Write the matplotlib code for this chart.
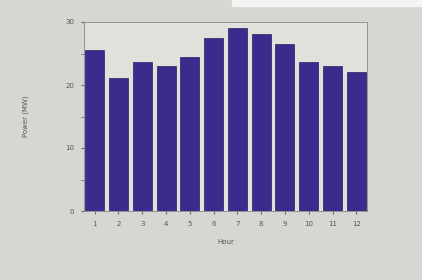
import numpy as np
import matplotlib.pyplot as plt

# hourly values
hours = np.arange(1, 13)
power = [25.6, 21.1, 23.7, 23.0, 24.4, 27.5, 29.0, 28.1, 26.5, 23.7, 23.0, 22.1]
yticks = [0, 10, 20, 30]

fig = plt.figure(figsize=(4.22, 2.8), dpi=100, facecolor='#d8d6d2')
ax = fig.add_axes([84 / 422, 1 - 211 / 280, 283 / 422, 189 / 280])
ax.set_facecolor('#e2e0db')

ax.bar(hours, power, width=0.8, color='#3c2a8c', edgecolor='#2a1d66', linewidth=0.5)

ax.set_xlim(0.55, 12.45)
ax.set_ylim(0, 30)
ax.set_xticks(hours)
ax.set_yticks(yticks)
ax.set_yticks([5, 15, 25], minor=True)
ax.tick_params(labelsize=5, length=2, color='#666666', labelcolor='#555555', pad=5)
ax.tick_params(which='minor', length=2, color='#666666')
ax.set_xlabel('Hour', fontsize=5, color='#555555', labelpad=9)
ax.set_ylabel('Power (MW)', fontsize=5, color='#555555', labelpad=26)
for s in ax.spines.values():
    s.set_color('#888888')
    s.set_linewidth(0.6)

# light strip at the top of the screenshot
fig.patches.append(plt.Rectangle((0.55, 0.98), 0.45, 0.02, transform=fig.transFigure,
                                 color='#f4f4f2', zorder=0))

plt.savefig('out.png', dpi=100, facecolor=fig.get_facecolor())
